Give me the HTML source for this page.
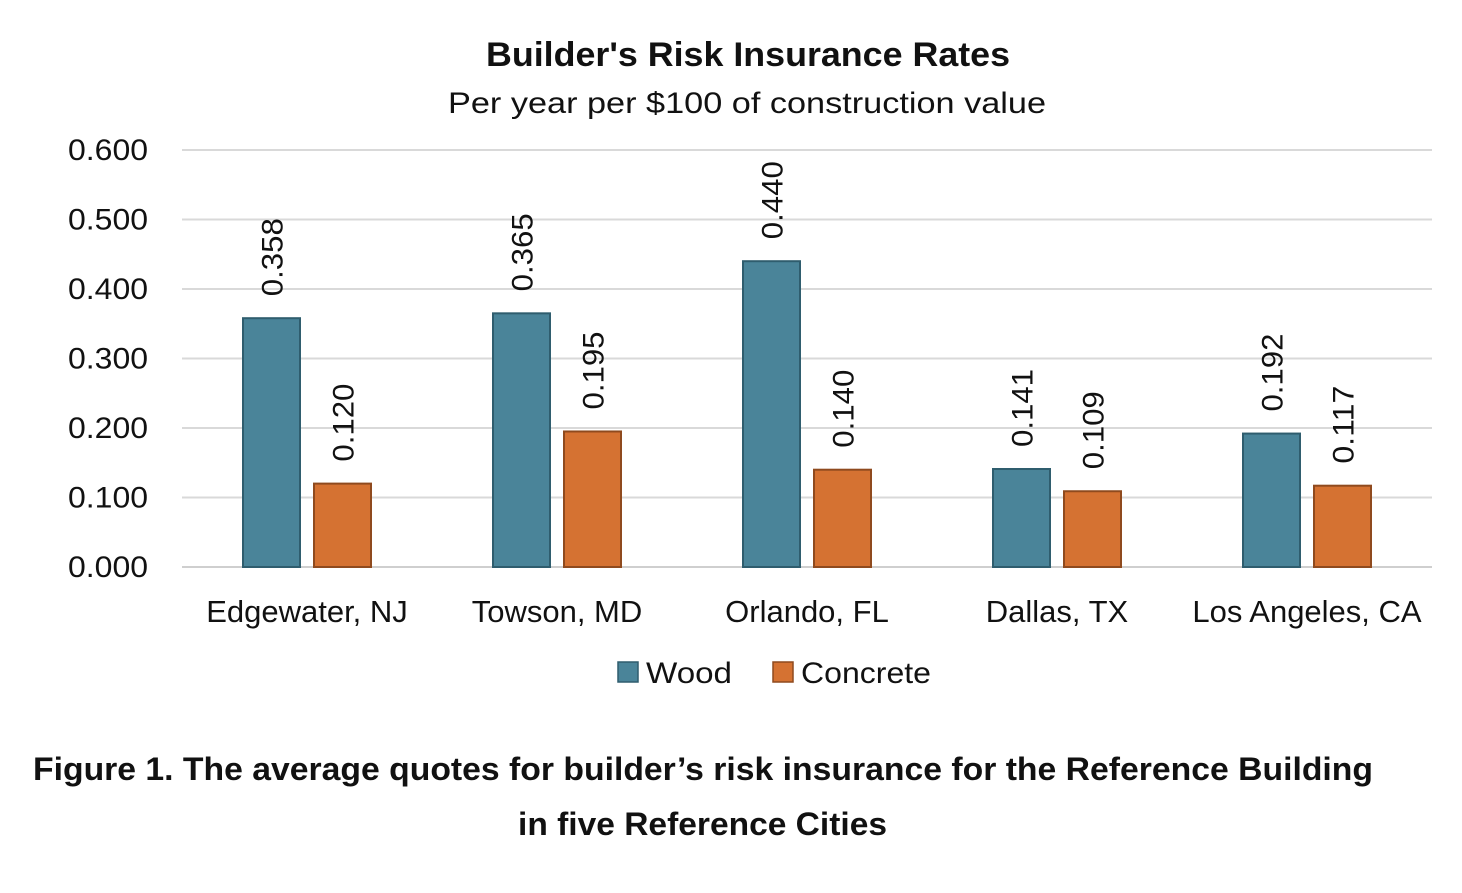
<!DOCTYPE html>
<html><head><meta charset="utf-8"><style>
body{margin:0;background:#fff;width:1462px;height:888px;overflow:hidden}
text{font-family:"Liberation Sans",sans-serif}
</style></head><body>
<svg id="chart" width="1462" height="888" viewBox="0 0 1462 888" xmlns="http://www.w3.org/2000/svg">
<text x="486" y="66" textLength="524" lengthAdjust="spacingAndGlyphs" font-size="34" font-weight="bold" fill="#111">Builder's Risk Insurance Rates</text>
<text x="448" y="113" textLength="598" lengthAdjust="spacingAndGlyphs" font-size="30" fill="#111">Per year per $100 of construction value</text>
<g id="grid"></g><g id="bars"></g>
<g>
<rect x="618" y="662" width="20" height="20" fill="#4a8499" stroke="#2f5d6e" stroke-width="1.5"/>
<text x="646" y="683" textLength="86" lengthAdjust="spacingAndGlyphs" font-size="30" fill="#111">Wood</text>
<rect x="773" y="662" width="20" height="20" fill="#d57232" stroke="#8f4a1e" stroke-width="1.5"/>
<text x="801" y="683" textLength="130" lengthAdjust="spacingAndGlyphs" font-size="30" fill="#111">Concrete</text>
</g>
<text x="33" y="780" textLength="1340" lengthAdjust="spacingAndGlyphs" font-size="32" font-weight="bold" fill="#111">Figure 1. The average quotes for builder’s risk insurance for the Reference Building</text>
<text x="518" y="835" textLength="369" lengthAdjust="spacingAndGlyphs" font-size="32" font-weight="bold" fill="#111">in five Reference Cities</text>
</svg>
<script>
const categories=["Edgewater, NJ","Towson, MD","Orlando, FL","Dallas, TX","Los Angeles, CA"];
const woodValues=[0.358,0.365,0.440,0.141,0.192];
const concreteValues=[0.120,0.195,0.140,0.109,0.117];
const yTicks=[0,0.1,0.2,0.3,0.4,0.5,0.6];
const NS="http://www.w3.org/2000/svg";
const x0=182,x1=1432,yTop=150,yBot=567,yMax=0.6;
const band=(x1-x0)/categories.length;
const y=v=>yBot-(v/yMax)*(yBot-yTop);
const xc=i=>x0+band*(i+0.5);
function mk(tag,attrs,parent,txt){const e=document.createElementNS(NS,tag);for(const k in attrs)e.setAttribute(k,attrs[k]);if(txt!==undefined)e.textContent=txt;parent.appendChild(e);return e;}
const grid=document.getElementById('grid'),bars=document.getElementById('bars');
yTicks.forEach(t=>{
 const l=mk('line',{x1:x0,x2:x1,y1:y(t),y2:y(t),stroke:t===0?'#cfcfcf':'#d9d9d9','stroke-width':2},grid);
 
 
 const tx=mk('text',{x:148,y:y(t)+10,'text-anchor':'end','font-size':30,textLength:80,lengthAdjust:'spacingAndGlyphs',fill:'#111'},grid,t.toFixed(3));
 
 
});
const bw=57,off=35.5;
categories.forEach((c,i)=>{
 const cl=mk('text',{x:xc(i),y:622,'text-anchor':'middle','font-size':31,fill:'#111'},grid,c);
 
 
 [[woodValues[i],-off,'#4a8499','#2f5d6e','wood'],[concreteValues[i],off,'#d57232','#8f4a1e','concrete']].forEach(([v,o,f,s,n])=>{
  const cx=xc(i)+o;
  const r=mk('rect',{x:cx-bw/2,y:y(v),width:bw,height:yBot-y(v),fill:f,stroke:s,'stroke-width':2},bars);
  
  
  const ty=y(v)-22;
  const lb=mk('text',{x:cx+11,y:ty,'font-size':30,textLength:78,lengthAdjust:'spacingAndGlyphs',fill:'#111',transform:`rotate(-90 ${cx+11} ${ty})`},bars,v.toFixed(3));
  
  
 });
});
</script>
</body></html>
